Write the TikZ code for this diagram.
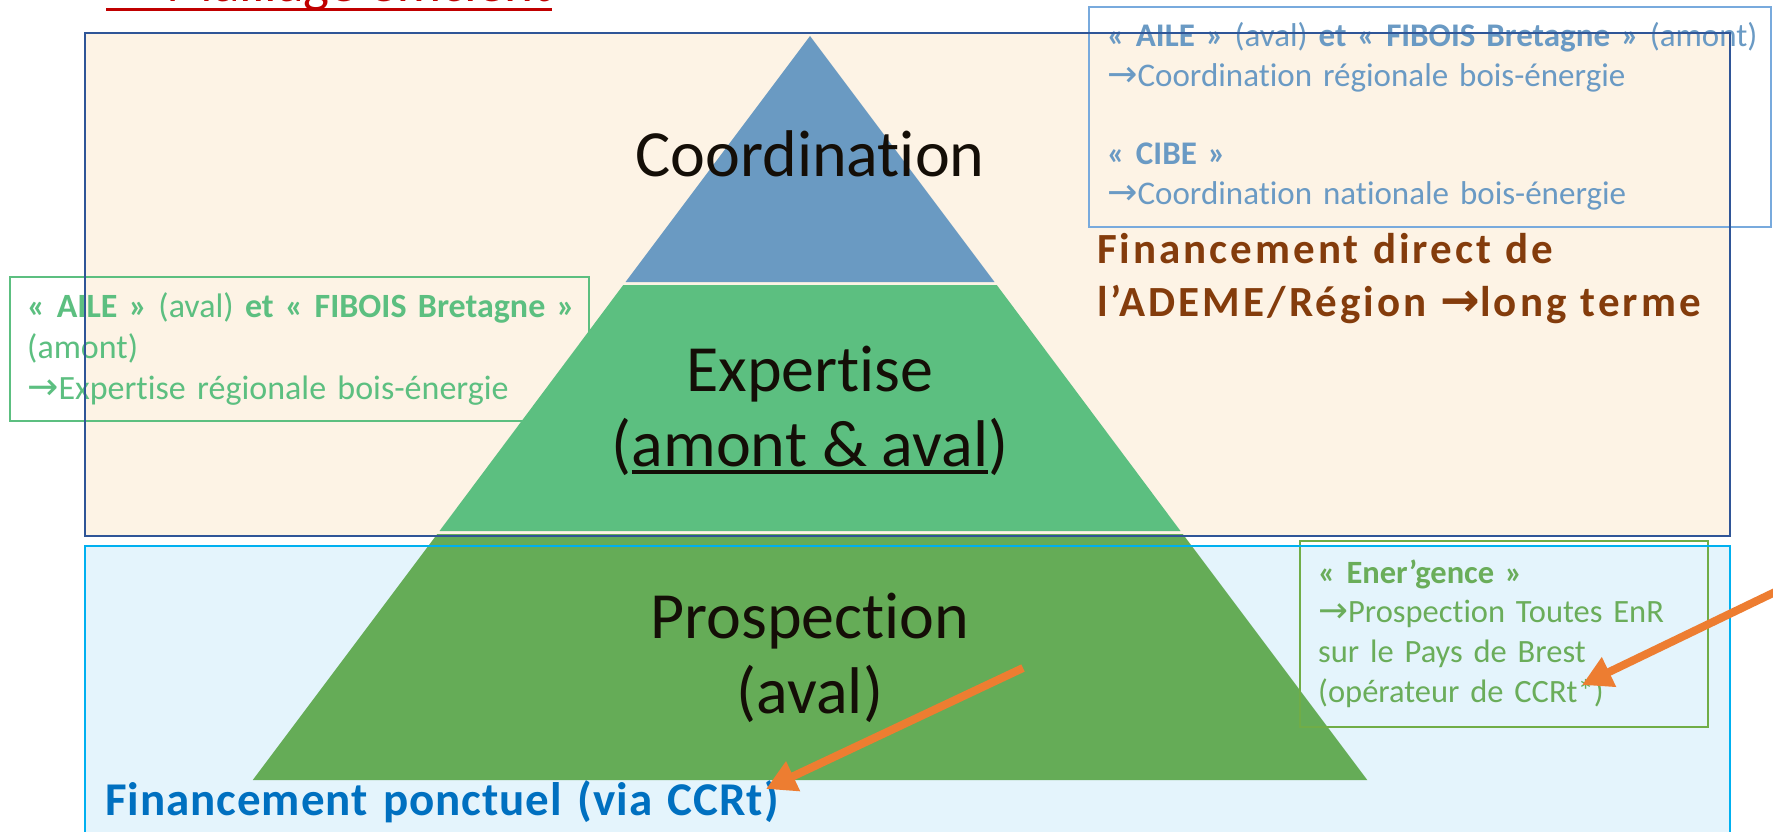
\documentclass[tikz,border=0pt]{standalone}
\usepackage{fontspec}
\setmainfont{Carlito}[Ligatures={NoCommon,NoContextual}]
\newfontfamily\arrfont[Scale=1.1]{DejaVu Sans}
\newfontfamily\spb[LetterSpace=7,Ligatures={NoCommon,NoContextual}]{Carlito}
\newfontfamily\spc[LetterSpace=2,Ligatures={NoCommon,NoContextual}]{Carlito}
\usetikzlibrary{arrows.meta}
\definecolor{beige}{HTML}{FDF3E5}
\definecolor{beigeborder}{HTML}{2F5597}
\definecolor{lightcyan}{HTML}{E4F4FC}
\definecolor{cyanborder}{HTML}{00B0F0}
\definecolor{pyrblue}{HTML}{6A9AC2}
\definecolor{pyrlg}{HTML}{5CBF80}
\definecolor{pyrdg}{HTML}{65AC57}
\definecolor{trtext}{HTML}{6A9AC4}
\definecolor{trborder}{HTML}{78AADD}
\definecolor{lgtext}{HTML}{5CBF80}
\definecolor{dgtext}{HTML}{6AAD5A}
\definecolor{dgborder}{HTML}{70AD47}
\definecolor{fundbrown}{HTML}{843C0C}
\definecolor{fundblue}{HTML}{0070C0}
\definecolor{orangeA}{HTML}{ED7D31}
\definecolor{titlered}{HTML}{C00000}
\definecolor{pyrtext}{HTML}{140E07}
\newcommand\ar{{\arrfont →}}
\newcommand\myul[1]{\setbox0\hbox{#1}\rlap{\rule[-8pt]{\wd0}{4pt}}\box0}
\begin{document}
\begin{tikzpicture}[x=1pt,y=-1pt,
  pyrlabel/.style={font=\fontsize{66}{80}\selectfont, text=pyrtext, inner sep=0pt, anchor=base},
  infotext/.style={font=\fontsize{33}{40}\selectfont, inner sep=0pt, anchor=base west, text width=720pt, align=left},
  fundtext/.style={font=\spb\bfseries\fontsize{43}{53}\selectfont, inner sep=0pt, anchor=base west, text width=800pt, align=left},
  infobox/.style={line width=1.5pt},
  orangearrow/.style={draw=orangeA, line width=8pt, -{Triangle[length=30pt,width=31pt]}}]
\useasboundingbox (0,0) rectangle (1773,832);
\clip (0,0) rectangle (1773,832);
\fill[white] (0,0) rectangle (1773,832);
% title (cut off at top)
\node[anchor=base west, inner sep=0pt, text=titlered, font=\fontsize{55}{66}\selectfont] (title) at (103,1.5) {\ar\ Maillage efficient};
\draw[titlered, line width=3.5pt] (106,9.5) -- (552,9.5);
% background boxes
\fill[beige] (85,33) rectangle (1730,536);
\fill[lightcyan] (85,546) rectangle (1730,860);
% pyramid
\fill[pyrblue] (810,36) -- (994.5,282) -- (625.5,282) -- cycle;
\fill[pyrlg] (623.25,285) -- (996.75,285) -- (1180.5,531) -- (439.5,531) -- cycle;
\fill[pyrdg] (437.25,534) -- (1182.75,534) -- (1367.25,780) -- (252.75,780) -- cycle;
\node[pyrlabel] (coord) at (810,177) {Coordination};
\node[pyrlabel] (exp1) at (810,391) {Expertise};
\node[pyrlabel] (exp2) at (810,466) {(\myul{amont \& aval})};
\node[pyrlabel] (pro1) at (810,638) {Prospection};
\node[pyrlabel] (pro2) at (810,713) {(aval)};
% info boxes
\draw[infobox, trborder] (1089,7) rectangle (1771,227);
\node[infotext, text=trtext] (tr) at (1107,47) {\textbf{« AILE »} (aval) \textbf{et « FIBOIS Bretagne »} (amont)\\
\ar Coordination régionale bois-énergie\\[38pt]
\textbf{« CIBE »}\\
\ar Coordination nationale bois-énergie};
\draw[infobox, lgtext] (10,277) rectangle (589,421);
\node[infotext, text=lgtext, font=\fontsize{34}{41}\selectfont] (lb) at (27,317) {\textbf{« AILE »} (aval) \textbf{et « FIBOIS Bretagne »}\\
(amont)\\
\ar Expertise régionale bois-énergie};
\draw[infobox, dgborder] (1300,541) rectangle (1708,727);
\node[infotext, text=dgtext, font=\fontsize{32.5}{39.7}\selectfont] (en) at (1318,583) {\textbf{« Ener’gence »}\\
\ar Prospection Toutes EnR\\
sur le Pays de Brest\\
(opérateur de CCRt*)};
% funding texts
\node[fundtext, text=fundbrown] (fin1) at (1097,263) {Financement direct de\\ l’ADEME/Région \ar long terme};
\node[fundtext, text=fundblue, font=\spc\bfseries\fontsize{47}{56}\selectfont] (fin2) at (105,815) {Financement ponctuel (via CCRt)};
% borders on top
\draw[beigeborder, line width=2.2pt] (85,33) rectangle (1730,536);
\draw[cyanborder, line width=2.5pt] (85,546) rectangle (1730,860);
% orange arrows
\coordinate (a1s) at (1023,668);
\coordinate (a1e) at (766,789);
\coordinate (a2s) at (1800,580);
\coordinate (a2e) at (1582,685);
\draw[orangearrow] (a1s) -- (a1e);
\draw[orangearrow] (a2s) -- (a2e);
\end{tikzpicture}
\end{document}
